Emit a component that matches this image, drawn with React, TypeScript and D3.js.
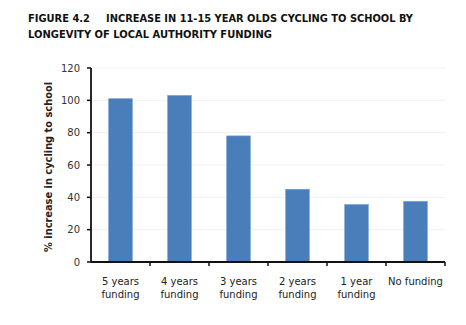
import React from "react";
import * as d3 from "d3";

const categories = ["5 years|funding", "4 years|funding", "3 years|funding", "2 years|funding", "1 year|funding", "No funding"];
const values = [101, 103, 78, 45, 35.5, 37.5];
const yTicks = [0, 20, 40, 60, 80, 100, 120];

const W = 466, H = 325;
const m = { left: 91, right: 21, top: 68, bottom: 63 };

export default function App() {
  const x = d3.scaleBand<string>().domain(categories).range([m.left, W - m.right]).paddingInner(0.6).paddingOuter(0.3);
  const y = d3.scaleLinear().domain([0, 120]).range([H - m.bottom, m.top]);
  const font = "Verdana, 'DejaVu Sans', sans-serif";
  const step = x.step();
  const x0 = m.left;
  return (
    <svg width={W} height={H} style={{ position: "absolute", left: 0, top: 0, background: "#fff" }}>
      <g fontFamily={font} fontWeight="bold" fontSize={11} fill="#111">
        <text x={28} y={22} textLength={62} lengthAdjust="spacingAndGlyphs">FIGURE 4.2</text>
        <text x={106} y={22} textLength={307} lengthAdjust="spacingAndGlyphs">INCREASE IN 11-15 YEAR OLDS CYCLING TO SCHOOL BY</text>
        <text x={28} y={37.5} textLength={244} lengthAdjust="spacingAndGlyphs">LONGEVITY OF LOCAL AUTHORITY FUNDING</text>
      </g>
      {yTicks.filter(t => t > 0).map(t => (
        <line key={"g" + t} x1={m.left} x2={W - m.right} y1={y(t)} y2={y(t)} stroke="#f0f0f0" strokeWidth={1} />
      ))}
      {categories.map((c, i) => (
        <rect key={c} x={x(c)!} y={y(values[i])} width={x.bandwidth()} height={y(0) - y(values[i])} fill="#4a7ebb" stroke="#6f9bd0" strokeWidth={0.6} />
      ))}
      <line x1={m.left} x2={m.left} y1={y(120)} y2={y(0)} stroke="#111" strokeWidth={1.8} />
      <line x1={m.left} x2={W - m.right} y1={y(0)} y2={y(0)} stroke="#111" strokeWidth={1.8} />
      {yTicks.map(t => (
        <g key={"t" + t}>
          <line x1={m.left - 4} x2={m.left} y1={y(t)} y2={y(t)} stroke="#111" strokeWidth={1.5} />
          <text x={80} y={y(t)} dy="0.35em" textAnchor="end" fontFamily={font} fontSize={10} fill="#333">{t}</text>
        </g>
      ))}
      {categories.map((c, i) => (
        <line key={"xt" + i} x1={x0 + step * (i + 1)} x2={x0 + step * (i + 1)} y1={y(0)} y2={y(0) + 4} stroke="#111" strokeWidth={1.5} />
      ))}
      {categories.map(c => {
        const cx = x(c)! + x.bandwidth() / 2;
        const lines = c.split("|");
        return (
          <text key={"l" + c} textAnchor="middle" fontFamily={font} fontSize={10} fill="#222">
            {lines.map((ln, j) => (
              <tspan key={j} x={cx} y={285 + j * 13}>{ln}</tspan>
            ))}
          </text>
        );
      })}
      <text transform={`translate(52,167) rotate(-90)`} textAnchor="middle" fontFamily={font} fontWeight="bold" fontSize={10} fill="#222" textLength={170} lengthAdjust="spacingAndGlyphs">% increase in cycling to school</text>
    </svg>
  );
}
